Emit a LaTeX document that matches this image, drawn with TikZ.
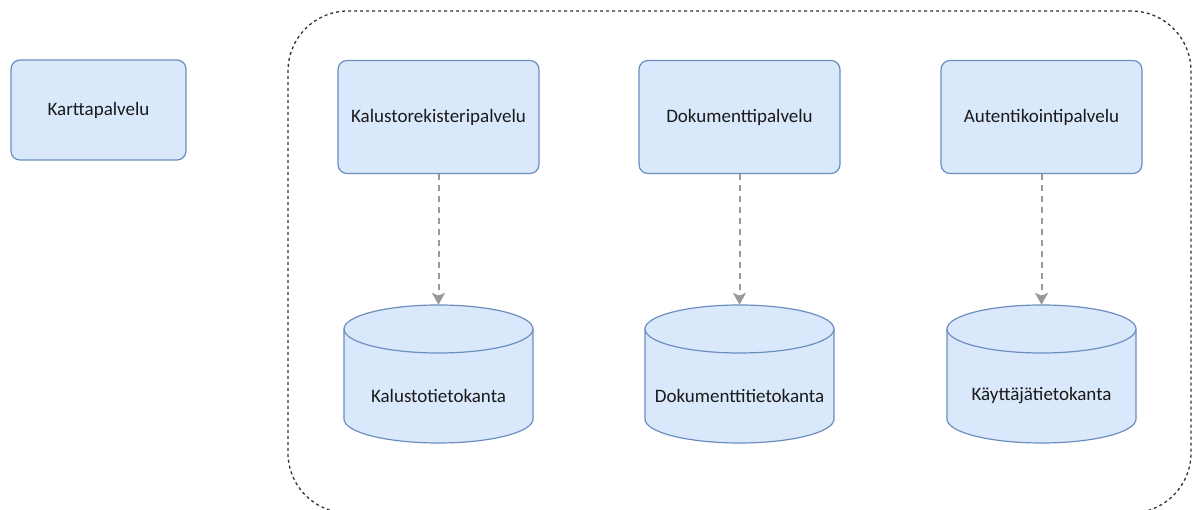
\documentclass[tikz,border=0pt]{standalone}
\usepackage{fontspec}
\setmainfont{Carlito}
\usetikzlibrary{arrows.meta}
\definecolor{boxfill}{HTML}{DAE8FC}
\definecolor{boxline}{HTML}{6C8EBF}
\definecolor{arrgray}{HTML}{999999}
\definecolor{contline}{HTML}{333333}
\definecolor{txt}{HTML}{1A1A1A}
\newcommand\dbshape[1]{%
  \filldraw[draw=boxline, fill=boxfill, line width=1.2pt]
    (#1-94.5,329) -- (#1-94.5,419)
    arc[start angle=180, end angle=360, x radius=94.5pt, y radius=24pt]
    -- (#1+94.5,329)
    arc[start angle=0, end angle=180, x radius=94.5pt, y radius=24pt] -- cycle;
  \draw[boxline, line width=1.2pt] (#1-94.5,329)
    arc[start angle=180, end angle=360, x radius=94.5pt, y radius=24pt];
}
\begin{document}
\begin{tikzpicture}[x=1pt, y=-1pt,
  lbl/.style={text=txt, font=\fontsize{19}{22}\selectfont, inner sep=0pt},
  svc/.style={lbl, draw=boxline, fill=boxfill, line width=1.2pt, rounded corners=9pt,
              minimum width=201pt, minimum height=113pt},
  dbarea/.style={inner sep=0pt, minimum width=189pt, minimum height=138pt},
  flow/.style={draw=arrgray, line width=2pt, dash pattern=on 6pt off 5pt,
               -{Stealth[length=12pt, width=13pt, inset=3pt]}},
  grp/.style={draw=contline, line width=1.3pt, dash pattern=on 3pt off 3pt,
              rounded corners=60pt, inner sep=0pt, minimum width=903pt, minimum height=502pt}
]
\useasboundingbox (0,0) rectangle (1200,510);
\begin{scope}
  \clip (0,0) rectangle (1200,510);
  \node[grp] (group) at (739.5,262) {};
\end{scope}

\node[svc, minimum width=175pt, minimum height=100pt] (kartta) at (98.5,110) {Karttapalvelu};
\node[svc] (kalusto) at (438.5,117) {Kalustorekisteripalvelu};
\node[svc] (dokum) at (739.5,117) {Dokumenttipalvelu};
\node[svc] (autent) at (1041.5,117) {Autentikointipalvelu};

\dbshape{438.5}
\dbshape{739.5}
\dbshape{1041.5}
\node[dbarea] (db1) at (438.5,374) {};
\node[dbarea] (db2) at (739.5,374) {};
\node[dbarea] (db3) at (1041.5,374) {};
\node[lbl] (db1t) at (438.5,396) {Kalustotietokanta};
\node[lbl] (db2t) at (739.5,396) {Dokumenttitietokanta};
\node[lbl] (db3t) at (1041.5,396) {Käyttäjätietokanta};

\draw[flow] (kalusto.south) -- (db1.north);
\draw[flow] (dokum.south) -- (db2.north);
\draw[flow] (autent.south) -- (db3.north);
\end{tikzpicture}
\end{document}
